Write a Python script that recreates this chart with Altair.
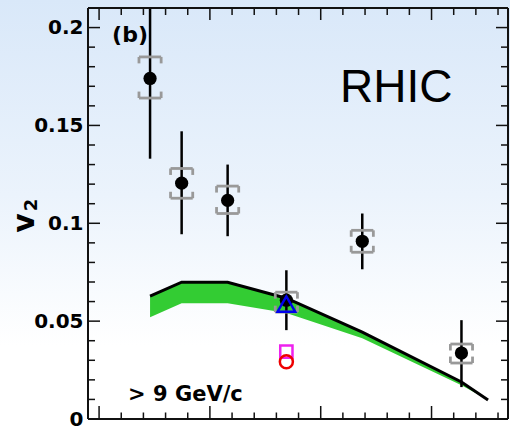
import altair as alt
import pandas as pd

# ---------------- data ----------------
cent_x = [0.46, 0.745, 1.16, 1.69, 2.375, 3.27]
v2 = [0.174, 0.1205, 0.1117, 0.0607, 0.0908, 0.0337]
stat_lo = [0.133, 0.0944, 0.0934, 0.0454, 0.0765, 0.0163]
stat_hi = [0.215, 0.147, 0.130, 0.076, 0.105, 0.0505]
sys_lo = [0.164, 0.1128, 0.105, 0.0546, 0.0852, 0.0286]
sys_hi = [0.185, 0.128, 0.119, 0.0648, 0.0964, 0.0383]

model_x = [0.46, 0.745, 1.16, 1.69, 2.375, 3.27, 3.51]
model_hi = [0.0628, 0.0699, 0.0699, 0.0617, 0.0444, 0.0189, 0.0097]
model_lo = [0.0520, 0.0592, 0.0592, 0.0541, 0.0413, 0.0173, 0.0097]

other_x = [1.69, 1.69, 1.69]
other_v2 = [0.0587, 0.0344, 0.0293]
other_shape = ["triangle-up", "square", "circle"]
other_color = ["#0000ee", "#ee22ee", "#ee0000"]
other_size = [310, 150, 170]

y_major = [0, 0.05, 0.1, 0.15, 0.2]
y_minor = [0.01, 0.02, 0.03, 0.04, 0.06, 0.07, 0.08, 0.09, 0.11, 0.12, 0.13,
           0.14, 0.16, 0.17, 0.18, 0.19]
x_major = [0, 1, 2, 3]
x_minor = [0.2, 0.4, 0.6, 0.8, 1.2, 1.4, 1.6, 1.8, 2.2, 2.4, 2.6, 2.8, 3.2, 3.4, 3.6]

W, H = 420, 411
X_DOMAIN = [-0.1, 3.69]
Y_DOMAIN = [0, 0.21]

xs = alt.Scale(domain=X_DOMAIN, nice=False, zero=False)
ys = alt.Scale(domain=Y_DOMAIN, nice=False, zero=False)
yaxis = alt.Axis(values=y_major, format="~g", ticks=False, domain=False, grid=False,
                 labelFont="DejaVu Sans", labelFontWeight="bold", labelFontSize=20,
                 labelPadding=5, labelColor="black", title=None, zindex=1)


def X(f):
    return alt.X(f, type="quantitative", scale=xs, axis=None)


def Y(f):
    return alt.Y(f, type="quantitative", scale=ys, axis=yaxis)


# ---------------- tables ----------------
pts = pd.DataFrame({"x": cent_x, "v2": v2, "lo": stat_lo, "hi": stat_hi,
                    "slo": sys_lo, "shi": sys_hi})
model = pd.DataFrame({"x": model_x, "hi": model_hi, "lo": model_lo})
others = pd.DataFrame({"x": other_x, "v2": other_v2, "shape": other_shape,
                       "color": other_color, "size": other_size})

hw, cap = 0.1, 0.0033
segs = []
for xv, lo, hi in zip(cent_x, sys_lo, sys_hi):
    segs.append((xv - hw, xv + hw, hi, hi))
    segs.append((xv - hw, xv + hw, lo, lo))
    for s in (-1, 1):
        segs.append((xv + s * hw, xv + s * hw, hi, hi - cap))
        segs.append((xv + s * hw, xv + s * hw, lo, lo + cap))
brackets = pd.DataFrame(segs, columns=["x", "x2", "y", "y2"])

one = pd.DataFrame({"a": [0]})

# ---------------- layers ----------------
bg = alt.Chart(one).mark_rect(
    fill=alt.Gradient(gradient="linear",
                      stops=[alt.GradientStop(color="#d9e8f9", offset=0),
                             alt.GradientStop(color="#ebf3fc", offset=0.45),
                             alt.GradientStop(color="#ffffff", offset=0.8),
                             alt.GradientStop(color="#ffffff", offset=1)],
                      x1=0, x2=0, y1=0, y2=1)
).encode(x=alt.value(-88), x2=alt.value(422), y=alt.value(-8), y2=alt.value(424))

band = alt.Chart(model).mark_area(color="#33cc33", opacity=1).encode(
    x=X("x"), y=Y("lo"), y2="hi")
line = alt.Chart(model).mark_line(color="black", strokeWidth=3).encode(
    x=X("x"), y=Y("hi"))

err = alt.Chart(pts).mark_rule(color="black", strokeWidth=2.5, clip=True).encode(
    x=X("x"), y=Y("lo"), y2="hi")
sysb = alt.Chart(brackets).mark_rule(color="#999999", strokeWidth=2.8).encode(
    x=X("x"), x2="x2", y=Y("y"), y2="y2")
dots = alt.Chart(pts).mark_circle(color="black", size=175, opacity=1).encode(
    x=X("x"), y=Y("v2"))

oth = alt.Chart(others).mark_point(filled=False, strokeWidth=2.5, opacity=1).encode(
    x=X("x"), y=Y("v2"),
    shape=alt.Shape("shape:N", scale=None),
    stroke=alt.Stroke("color:N", scale=None),
    size=alt.Size("size:Q", scale=None))

tick_col = "#111111"
ymaj = pd.DataFrame({"v": y_major})
ymin = pd.DataFrame({"v": y_minor})
xmaj = pd.DataFrame({"v": x_major})
xmin = pd.DataFrame({"v": x_minor})

ticks = []
for df, ln in ((ymaj, 12), (ymin, 7)):
    ticks.append(alt.Chart(df).mark_rule(color=tick_col, strokeWidth=1.5).encode(
        y=Y("v"), x=alt.value(0), x2=alt.value(ln)))
    ticks.append(alt.Chart(df).mark_rule(color=tick_col, strokeWidth=1.5).encode(
        y=Y("v"), x=alt.value(W), x2=alt.value(W - ln)))
for df, ln_b, ln_t in ((xmaj, 13, 12), (xmin, 6.5, 7)):
    ticks.append(alt.Chart(df).mark_rule(color=tick_col, strokeWidth=1.5).encode(
        x=X("v"), y=alt.value(H), y2=alt.value(H - ln_b)))
    ticks.append(alt.Chart(df).mark_rule(color=tick_col, strokeWidth=1.5).encode(
        x=X("v"), y=alt.value(0), y2=alt.value(ln_t)))

frame = [
    alt.Chart(one).mark_rule(color=tick_col, strokeWidth=2).encode(
        x=alt.value(0), y=alt.value(0), y2=alt.value(H)),
    alt.Chart(one).mark_rule(color=tick_col, strokeWidth=2).encode(
        x=alt.value(W), y=alt.value(0), y2=alt.value(H)),
    alt.Chart(one).mark_rule(color=tick_col, strokeWidth=2).encode(
        y=alt.value(0), x=alt.value(0), x2=alt.value(W)),
    alt.Chart(one).mark_rule(color=tick_col, strokeWidth=2).encode(
        y=alt.value(H), x=alt.value(0), x2=alt.value(W)),
]

txt_b = alt.Chart(pd.DataFrame({"x": [0.279], "y": [0.1927], "t": ["(b)"]})).mark_text(
    font="DejaVu Sans", fontWeight="bold", fontSize=22, align="center",
    baseline="alphabetic", color="black").encode(x=X("x"), y=Y("y"), text="t:N")
txt_rhic = alt.Chart(pd.DataFrame({"x": [2.174], "y": [0.162], "t": ["RHIC"]})).mark_text(
    font="Liberation Sans", fontSize=46, align="left",
    baseline="alphabetic", color="black").encode(x=X("x"), y=Y("y"), text="t:N")
txt_pt = alt.Chart(pd.DataFrame({"x": [0.262], "y": [0.0092], "t": ["> 9 GeV/c"]})).mark_text(
    font="DejaVu Sans", fontWeight="bold", fontSize=21, align="left",
    baseline="alphabetic", color="black").encode(x=X("x"), y=Y("y"), text="t:N")
txt_v = alt.Chart(pd.DataFrame({"t": ["v"]})).mark_text(
    font="DejaVu Sans", fontWeight="bold", fontSize=30, angle=270, align="center",
    baseline="middle", color="black").encode(x=alt.value(-63), y=alt.value(215), text="t:N")
txt_2 = alt.Chart(pd.DataFrame({"t": ["2"]})).mark_text(
    font="DejaVu Sans", fontWeight="bold", fontSize=18, angle=270, align="center",
    baseline="middle", color="black").encode(x=alt.value(-56), y=alt.value(197), text="t:N")

chart = alt.layer(
    bg, band, line, err, sysb, dots, oth, *ticks, *frame,
    txt_b, txt_rhic, txt_pt, txt_v, txt_2
).properties(
    width=W, height=H,
    autosize=alt.AutoSizeParams(type="none"),
    padding={"left": 88, "top": 8, "right": 2, "bottom": 13},
).configure_view(stroke=None)

chart.save("out.html", embed_options={"renderer": "svg", "actions": False})
